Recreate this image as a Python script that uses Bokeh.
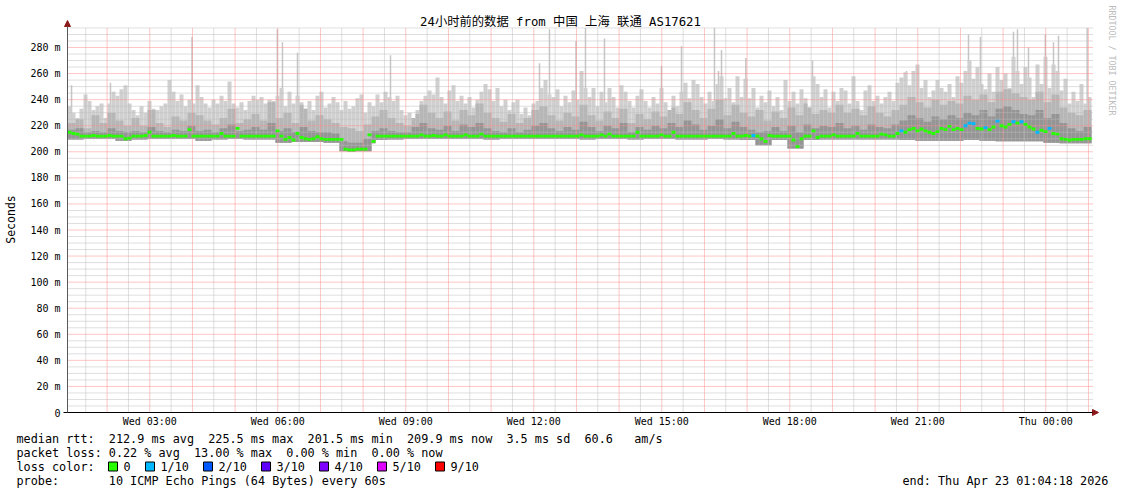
import numpy as np
from bokeh.plotting import figure
from bokeh.models import Label, Arrow, NormalHead, ColumnDataSource
from bokeh.core.properties import value
from bokeh.embed import file_html
from bokeh.resources import INLINE

# ---------------- data ----------------
start_hour = 1.0717          # Wed 01:04:18
span_hours = 24.0

tick_hours = [3, 6, 9, 12, 15, 18, 21, 24]
tick_labels = ["Wed 03:00", "Wed 06:00", "Wed 09:00", "Wed 12:00",
               "Wed 15:00", "Wed 18:00", "Wed 21:00", "Thu 00:00"]
y_ticks = [0, 20, 40, 60, 80, 100, 120, 140, 160, 180, 200, 220, 240, 260, 280]
y_tick_labels = ["0", "20 m", "40 m", "60 m", "80 m", "100 m", "120 m", "140 m",
                 "160 m", "180 m", "200 m", "220 m", "240 m", "260 m", "280 m"]

# light smoke top (ms), 256 samples
smoke_max = [
    235, 230, 226, 233, 244, 239, 232, 235, 237, 226, 237, 246, 243, 248, 251, 237,
    232, 228, 235, 230, 239, 233, 232, 235, 237, 255, 246, 239, 244, 235, 240, 237,
    251, 242, 237, 234, 240, 237, 243, 239, 254, 237, 234, 238, 232, 239, 243, 240,
    242, 237, 240, 239, 243, 249, 235, 246, 237, 243, 238, 233, 239, 232, 243, 246,
    234, 237, 242, 238, 232, 239, 233, 235, 241, 244, 230, 238, 235, 244, 238, 246,
    242, 239, 243, 232, 228, 230, 226, 232, 239, 243, 247, 244, 257, 242, 237, 247,
    251, 239, 243, 237, 242, 234, 240, 246, 252, 248, 239, 249, 235, 240, 232, 238,
    240, 229, 234, 228, 237, 239, 249, 255, 244, 242, 248, 235, 243, 238, 247, 240,
    262, 249, 242, 249, 235, 246, 238, 249, 242, 234, 251, 246, 239, 234, 243, 248,
    239, 234, 242, 237, 249, 238, 232, 243, 235, 246, 253, 241, 255, 252, 242, 237,
    246, 239, 252, 258, 241, 249, 238, 258, 242, 256, 241, 249, 234, 243, 238, 247,
    235, 242, 232, 255, 239, 246, 237, 248, 241, 234, 258, 252, 242, 248, 234, 246,
    239, 249, 247, 237, 258, 239, 232, 247, 251, 239, 243, 237, 242, 246, 239, 253,
    257, 261, 251, 262, 267, 249, 255, 242, 247, 255, 249, 246, 252, 242, 258, 253,
    262, 270, 256, 265, 252, 248, 260, 246, 265, 255, 260, 249, 273, 262, 252, 265,
    257, 242, 267, 252, 273, 249, 267, 262, 247, 256, 237, 246, 239, 252, 237, 242,
]
# medium smoke top (ms), 128 samples
smoke_mid = [
    222, 225, 218, 228, 222, 230, 224, 220, 226, 220, 232, 222, 219, 227, 224, 230,
    228, 224, 221, 226, 233, 222, 225, 229, 224, 238, 226, 230, 222, 236, 224, 228,
    225, 222, 219, 218, 216, 221, 227, 232, 226, 222, 220, 229, 236, 230, 226, 231,
    224, 232, 228, 237, 230, 226, 223, 229, 222, 226, 232, 235, 228, 224, 230, 227,
    236, 228, 224, 231, 226, 233, 222, 229, 225, 231, 227, 234, 229, 238, 232, 226,
    233, 240, 228, 236, 230, 227, 232, 224, 231, 226, 234, 228, 237, 229, 232, 230,
    236, 230, 233, 228, 235, 230, 227, 232, 236, 242, 238, 234, 240, 236, 239, 237,
    243, 240, 244, 238, 246, 248, 245, 242, 240, 246, 238, 244, 234, 230, 228, 232,
]
# dark smoke top (ms), 128 samples
smoke_dark = [
    217, 218, 215, 216, 215, 218, 216, 215, 216, 215, 219, 216, 215, 217, 216, 220,
    216, 217, 215, 218, 221, 216, 217, 219, 217, 222, 216, 218, 215, 219, 216, 215,
    215, 214, 208, 207, 207, 210, 216, 218, 216, 215, 215, 219, 222, 218, 217, 220,
    216, 221, 219, 222, 218, 216, 215, 218, 215, 217, 220, 222, 218, 216, 219, 217,
    223, 219, 216, 220, 218, 222, 215, 219, 217, 220, 218, 222, 219, 224, 221, 217,
    220, 225, 218, 223, 219, 217, 215, 216, 219, 216, 220, 215, 221, 218, 220, 219,
    222, 218, 220, 217, 221, 219, 218, 221, 224, 228, 226, 223, 227, 225, 228, 226,
    230, 228, 232, 227, 233, 235, 232, 229, 228, 232, 226, 229, 222, 218, 216, 219,
]
# smoke bottom (ms), 64 samples
smoke_min = [
    209.5, 210, 210, 208.5, 209.5, 210, 210, 210, 208.5, 209.5, 210, 209.5, 209.5, 207, 207.5, 207.5,
    207, 200.5, 200.5, 209, 209.5, 210, 210, 210, 210, 210, 209.5, 210, 210, 210, 210, 210,
    209.5, 210, 210, 209.5, 210, 210, 209.5, 209.5, 210, 209.5, 209, 205, 209, 202.5, 209, 209.5,
    209.5, 209.5, 209.5, 209.5, 209, 208.5, 208.5, 208.5, 209, 208.5, 208, 208, 208, 207, 206.5, 206.5,
]
# median rtt (ms), 256 samples
median_rtt = [
    215, 214, 213.5, 212, 212, 212, 212.5, 212, 212, 212, 212.5, 212, 212, 212, 210, 210.5,
    212, 212, 212, 212.5, 215, 212, 212, 212, 212, 212, 212.5, 212, 212, 212, 217, 212,
    212, 212, 212, 212, 212, 212, 214, 212, 212, 212, 218, 212, 212, 212, 212, 212,
    212, 212, 212, 212, 216, 212, 209.5, 211, 209, 214, 211, 210, 209.5, 210, 211.5, 210,
    209.5, 209.5, 209.5, 209.5, 209.5, 202, 201.5, 201.5, 202, 202, 202, 213, 208, 212, 212, 212,
    212, 212, 212, 212, 212, 212, 212, 212, 213, 212, 212, 212.5, 212, 212, 213, 212,
    212, 212, 212, 213, 212, 212, 212, 213.5, 212, 212, 212, 212, 212, 212, 212, 212,
    212, 212, 212, 212, 212, 212, 212, 212, 212, 212, 212, 212, 212, 212, 212, 212,
    213, 212, 212, 212, 212, 213, 212, 213.5, 212, 212, 212, 212, 212, 212, 215, 212,
    212, 212, 212, 212, 213, 212, 212, 215, 212, 212, 212, 212, 212, 212, 212, 212,
    212, 212, 212, 212, 212, 212, 214, 212, 212, 212.5, 212, 212.5, 212, 210, 208, 212.5,
    212, 212, 212, 212, 212, 209, 204, 210, 212, 212, 216, 211, 212, 212, 212, 213,
    212, 212, 212, 212, 212, 214, 212, 212, 212, 212, 212, 213.5, 213, 212, 212, 214,
    216, 215, 217, 218, 216, 217.5, 216, 215, 214, 215.5, 218, 217, 219.5, 217, 218, 217,
    220, 222, 221.5, 218, 217.5, 218.5, 217, 219, 223.5, 220, 219, 221, 223, 222, 223, 221,
    219, 217.5, 215, 216.5, 215.5, 218, 214, 213.5, 210, 209.5, 209, 209.5, 209.5, 209.5, 210, 210,
]
# lost pings out of 10, 256 samples
lost_pings = [
    0, 0, 0, 0, 0, 0, 0, 0, 0, 0, 0, 0, 0, 0, 0, 0,
    0, 0, 0, 0, 0, 0, 0, 0, 0, 0, 0, 0, 0, 0, 0, 0,
    0, 0, 0, 0, 0, 0, 0, 0, 0, 0, 0, 0, 0, 0, 0, 0,
    0, 0, 0, 0, 0, 0, 0, 0, 0, 0, 0, 0, 0, 0, 0, 0,
    0, 0, 0, 0, 0, 0, 0, 0, 0, 0, 0, 0, 0, 0, 0, 0,
    0, 0, 0, 0, 0, 0, 0, 0, 0, 0, 0, 0, 0, 0, 0, 0,
    0, 0, 0, 0, 0, 0, 0, 0, 0, 0, 0, 0, 0, 0, 0, 0,
    0, 0, 0, 0, 0, 0, 0, 0, 0, 0, 0, 0, 0, 0, 0, 0,
    0, 0, 0, 0, 0, 0, 0, 0, 0, 0, 0, 0, 0, 0, 0, 0,
    0, 0, 0, 0, 0, 0, 0, 0, 0, 0, 0, 0, 0, 0, 0, 0,
    0, 0, 0, 0, 0, 0, 0, 0, 0, 0, 0, 1, 0, 0, 0, 0,
    0, 0, 0, 0, 0, 0, 0, 0, 0, 0, 0, 0, 0, 0, 0, 0,
    0, 0, 0, 0, 0, 0, 0, 0, 0, 0, 0, 0, 0, 0, 0, 0,
    1, 0, 0, 0, 0, 0, 0, 0, 0, 0, 0, 0, 0, 0, 0, 0,
    1, 1, 1, 0, 0, 1, 0, 0, 1, 0, 0, 0, 1, 0, 1, 0,
    0, 0, 1, 0, 0, 1, 0, 0, 0, 0, 0, 0, 0, 0, 0, 0,
]
# isolated tall smoke spikes
spike_hours = [1.166, 2.079, 3.99, 5.99, 6.110, 6.462, 8.642, 12.134, 12.368, 12.99,
               13.212, 13.657, 14.993, 15.462, 16.235, 16.329, 16.400, 16.97, 18.532,
               20.735, 22.189, 22.469, 23.243, 23.337, 23.595, 23.99, 24.181, 24.298, 24.97]
spike_max = [251, 253, 288, 294, 284, 276, 274, 268, 294, 285,
             295, 287, 266, 281, 295, 262, 278, 272, 270,
             262, 290, 288, 292, 294, 280, 290, 284, 289, 295]

loss_names = ["0", "1/10", "2/10", "3/10", "4/10", "5/10", "9/10"]
loss_colors = ["#26ff00", "#00b8ff", "#0059ff", "#5e00ff", "#7e00ff", "#dd00ff", "#ff0000"]

title_text = "24小时前的数据 from 中国 上海 联通 AS17621"
rtt_stats = ["median rtt:", "212.9 ms avg", "225.5 ms max", "201.5 ms min",
             "209.9 ms now", "3.5 ms sd", "60.6", "am/s"]
loss_stats = ["packet loss:", "0.22 % avg", "13.00 % max", "0.00 % min", "0.00 % now"]
probe_text = "10 ICMP Echo Pings (64 Bytes) every 60s"
end_text = "end: Thu Apr 23 01:04:18 2026"

# ---------------- layout ----------------
W, H = 1121, 494
PXH = 1024 / 24.0        # px per hour
PXMS = 365 / 280.0       # px per ms
AX_X, AX_Y = 67, 412     # page position of the axes origin
MONO = "DejaVu Sans Mono"


def dx(px):
    return start_hour + (px - AX_X) / PXH


def dy(py):
    return (AX_Y - py) / PXMS


p = figure(width=W, height=H, x_range=(dx(0), dx(W)), y_range=(dy(H), dy(0)),
           output_backend="svg", toolbar_location=None,
           x_axis_location=None, y_axis_location=None,
           min_border_left=0, min_border_right=0, min_border_top=0, min_border_bottom=0)
p.outline_line_color = None
p.background_fill_color = "white"
p.border_fill_color = "white"
p.xgrid.grid_line_color = None
p.ygrid.grid_line_color = None

# smoke
n = len(smoke_max)
dt = span_hours / n
left = start_hour + np.arange(n) * dt
right = left + dt
hi = np.array(smoke_max, float)
mid = np.minimum(np.repeat(smoke_mid, n // len(smoke_mid)), hi)
dk = np.minimum(np.repeat(smoke_dark, n // len(smoke_dark)), mid)
lo = np.repeat(smoke_min, n // len(smoke_min))
med = np.array(median_rtt, float)
lo = np.minimum(lo, med - 1.5)

src = ColumnDataSource(dict(left=left, right=right, lo=lo, hi=hi, mid=mid, dk=dk,
                            mb=med - 1.1, mt=med + 1.1,
                            col=[loss_colors[k] for k in lost_pings]))

sp_w = 1.5 / PXH
p.vbar(x=spike_hours, width=sp_w, bottom=210, top=spike_max, fill_color="#c6c6c6", line_color=None)
p.quad(left="left", right="right", bottom="lo", top="hi", source=src, fill_color="#d0d0d0", line_color=None)
p.quad(left="left", right="right", bottom="lo", top="mid", source=src, fill_color="#b6b6b6", line_color=None)
p.quad(left="left", right="right", bottom="lo", top="dk", source=src, fill_color="#959595", line_color=None)

# grid
gx_end = dx(1093)
gy_end = 295
red_v = [h for h in range(2, 26) if start_hour <= h <= gx_end]
grey_v = [h + 0.5 for h in range(1, 25) if start_hour <= h + 0.5 <= gx_end]
red_h = [v for v in range(20, 281, 20)]
grey_h = [v for v in range(5, gy_end + 1, 5) if v % 20]
p.segment(x0=grey_v, y0=0, x1=grey_v, y1=gy_end, line_color="#bdbdbd", line_dash="1 1", line_width=1)
p.segment(x0=start_hour, y0=grey_h, x1=gx_end, y1=grey_h, line_color="#bdbdbd", line_dash="1 1", line_width=1)
p.segment(x0=red_v, y0=0, x1=red_v, y1=gy_end, line_color="#ff8c8c", line_dash="1 1", line_width=1)
p.segment(x0=start_hour, y0=red_h, x1=gx_end, y1=red_h, line_color="#ff8c8c", line_dash="1 1", line_width=1)

# median, coloured by loss
p.quad(left="left", right="right", bottom="mb", top="mt", source=src, fill_color="col", line_color=None)

# axis lines with arrows
arrow_col = "#8c1a1a"
p.add_layout(Arrow(x_start=dx(63), y_start=0, x_end=dx(1098), y_end=0,
                   line_color="black", line_width=1,
                   end=NormalHead(size=6, fill_color=arrow_col, line_color=arrow_col)))
p.add_layout(Arrow(x_start=start_hour, y_start=0, x_end=start_hour, y_end=dy(20),
                   line_color="#5a5a5a", line_width=1,
                   end=NormalHead(size=6, fill_color=arrow_col, line_color=arrow_col)))

# tick labels
p.text(x=tick_hours, y=dy(421), text=tick_labels, text_font=value(MONO), text_font_size="10px",
       text_align="center", text_baseline="middle", text_color="black")
p.text(x=dx(60), y=y_ticks, text=y_tick_labels, text_font=value(MONO), text_font_size="10px",
       text_align="right", text_baseline="middle", text_color="black")


def put(text, px, py, size, align="left", color="black", angle=0.0, font=MONO):
    p.add_layout(Label(x=dx(px), y=dy(py), text=text, text_font=font, text_font_size=f"{size}px",
                       text_align=align, text_baseline="middle", text_color=color, angle=angle))


put(title_text, 560, 21, 12.3, align="center", font="DejaVu Sans Mono, Noto Sans CJK SC")
put("Seconds", 10, 219, 11.5, align="center", angle=np.pi / 2)
put("RRDTOOL / TOBI OETIKER", 1111, 60, 8.3, align="center", color="#bcbcbc", angle=-np.pi / 2)

CW = 7.1
rtt_cols = [0, 13, 27, 41, 55, 69, 80, 87]
for t, c in zip(rtt_stats, rtt_cols):
    put(t, 16 + c * CW, 438, 11.8)
loss_cols = [0, 13, 25, 38, 50]
for t, c in zip(loss_stats, loss_cols):
    put(t, 16 + c * CW, 452, 11.8)
put("loss color:", 16, 466, 11.8)
sq_left = [108, 145, 203, 261, 319, 377, 435]
p.quad(left=[dx(s) for s in sq_left], right=[dx(s + 9) for s in sq_left],
       top=dy(461.5), bottom=dy(470.5), fill_color=loss_colors, line_color="black", line_width=1)
for name, sx in zip(loss_names, sq_left):
    put(name, sx + 15, 466, 11.8)
put("probe:", 16, 480, 11.8)
put(probe_text, 16 + 13 * CW, 480, 11.8)
put(end_text, 902, 480, 11.8)

open("out.html", "w").write(file_html(p, INLINE))
